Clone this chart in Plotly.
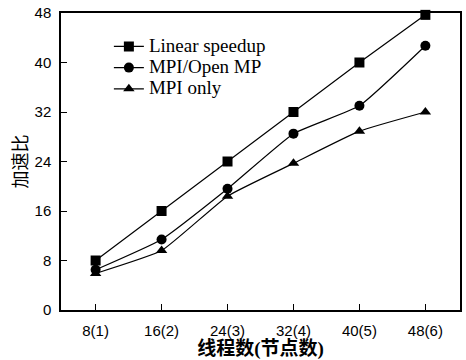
import plotly.graph_objects as go

x_vals = [8, 16, 24, 32, 40, 48]
x_labels = ["8(1)", "16(2)", "24(3)", "32(4)", "40(5)", "48(6)"]
linear = [8, 16, 24, 32, 40, 47.7]
hybrid = [6.5, 11.4, 19.6, 28.5, 33.0, 42.7]
mpi_only = [5.9, 9.6, 18.4, 23.7, 28.9, 32.0]
y_ticks = [0, 8, 16, 24, 32, 40, 48]

fig = go.Figure()
series = [("Linear speedup", linear, "square"),
          ("MPI/Open MP", hybrid, "circle"),
          ("MPI only", mpi_only, "triangle-up")]
for name, vals, sym in series:
    fig.add_trace(go.Scatter(
        x=x_vals, y=vals, mode="lines+markers",
        name="<span style='font-size:19px'>" + name + "</span>",
        line=dict(color="black", width=1.2, shape="spline", smoothing=0.4),
        marker=dict(symbol=sym, size=10, color="black"),
        cliponaxis=False,
    ))

fig.update_layout(
    width=466, height=360,
    margin=dict(l=61, r=4, t=13, b=50),
    plot_bgcolor="white", paper_bgcolor="white",
    showlegend=True,
    legend=dict(x=0.12, y=0.94, xanchor="left", yanchor="top",
                bgcolor="rgba(0,0,0,0)", tracegroupgap=0,
                font=dict(family="Liberation Serif", size=14, color="black")),
    font=dict(family="Liberation Sans", size=15, color="black"),
)
fig.update_xaxes(
    range=[3.8, 52.2], tickvals=x_vals, ticktext=x_labels,
    ticks="inside", ticklen=6, tickcolor="black",
    ticklabelstandoff=6,
    showline=True, linecolor="black", linewidth=1.5, mirror=True,
    showgrid=False, zeroline=False,
    tickfont=dict(family="Liberation Sans", size=15),
    title=dict(text="<b>线程数(节点数)</b>", standoff=3,
               font=dict(family="Liberation Serif, Noto Sans CJK SC", size=19)),
)
fig.update_yaxes(
    range=[0, 48], tickvals=y_ticks,
    ticks="inside", ticklen=6, tickcolor="black",
    ticklabelstandoff=5,
    showline=True, linecolor="black", linewidth=1.5, mirror=True,
    showgrid=False, zeroline=False,
    tickfont=dict(family="Liberation Sans", size=15),
    title=dict(text="加速比", standoff=2,
               font=dict(family="Noto Sans CJK SC", size=18)),
)
fig.write_html("out.html", config={"displayModeBar": False},
               post_script="document.body.style.margin='0';")
